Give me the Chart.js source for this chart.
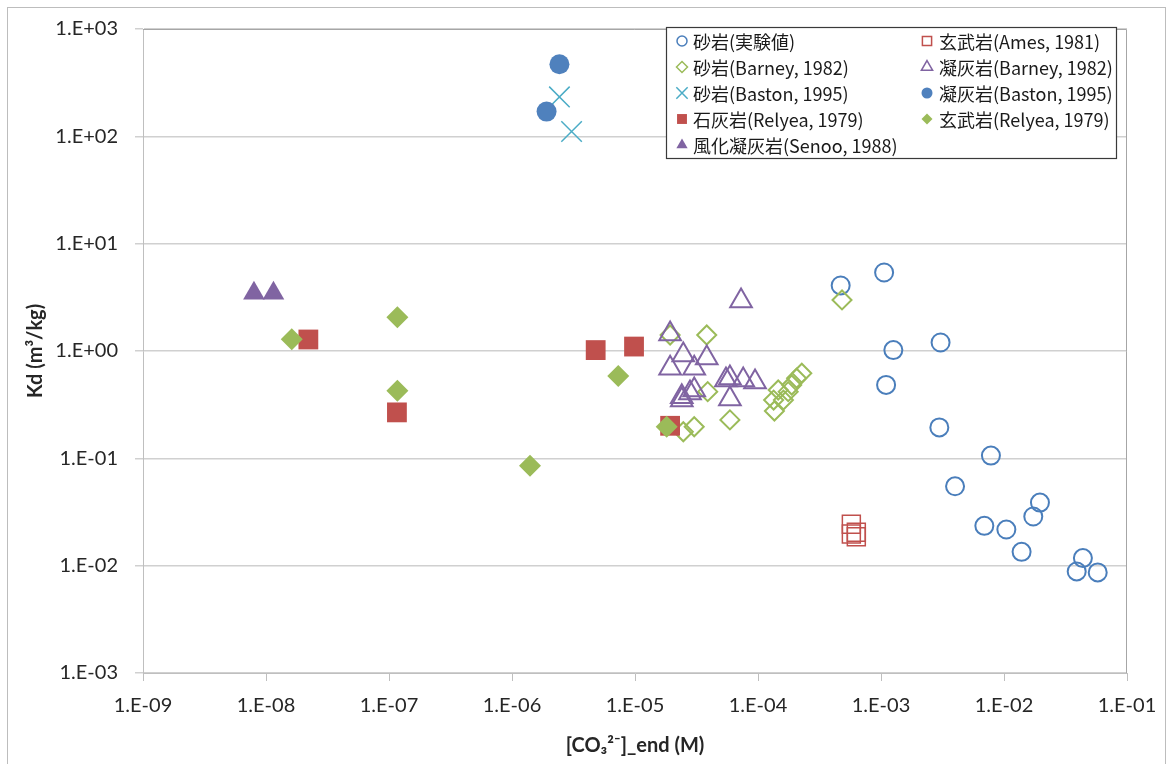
<!DOCTYPE html>
<html>
<head>
<meta charset="utf-8">
<script src="https://cdn.jsdelivr.net/npm/chart.js@4.4.1/dist/chart.umd.min.js"></script>
<style>
  html, body { margin: 0; padding: 0; background: #ffffff; }
  #wrap { width: 1170px; height: 764px; position: relative; }
</style>
</head>
<body>
<div id="wrap"><canvas id="c" width="1170" height="764"></canvas></div>
<script>
// ---- data ----
const xTickExponents = [-9, -8, -7, -6, -5, -4, -3, -2, -1];
const yTickExponents = [-3, -2, -1, 0, 1, 2, 3];

const seriesNames = [
  '砂岩(実験値)', '玄武岩(Ames, 1981)',
  '砂岩(Barney, 1982)', '凝灰岩(Barney, 1982)',
  '砂岩(Baston, 1995)', '凝灰岩(Baston, 1995)',
  '石灰岩(Relyea, 1979)', '玄武岩(Relyea, 1979)',
  '風化凝灰岩(Senoo, 1988)'
];

const sandstoneExpX = [4.70e-4, 1.06e-3, 1.26e-3, 3.05e-3, 1.10e-3, 2.98e-3, 7.83e-3, 4.0e-3, 1.96e-2, 1.73e-2, 6.92e-3, 1.045e-2, 1.39e-2, 4.38e-2, 3.9e-2, 5.78e-2];
const sandstoneExpY = [4.08, 5.39, 1.02, 1.20, 0.483, 0.194, 0.106, 0.0549, 0.0387, 0.0287, 0.0235, 0.0217, 0.01346, 0.01177, 0.00883, 0.00865];

const basaltAmesX = [5.74e-4, 6.30e-4, 6.30e-4, 5.74e-4];
const basaltAmesY = [0.0243, 0.0205, 0.0186, 0.0197];

const sandstoneBarneyX = [1.93e-5, 3.83e-5, 3.90e-5, 5.91e-5, 3.03e-5, 2.47e-5, 1.36e-4, 1.34e-4, 1.46e-4, 1.76e-4, 1.88e-4, 2.06e-4, 2.27e-4, 1.61e-4, 4.82e-4];
const sandstoneBarneyY = [1.41, 1.41, 0.418, 0.228, 0.197, 0.177, 0.276, 0.349, 0.433, 0.418, 0.482, 0.557, 0.620, 0.349, 2.99];

const tuffBarneyX = [7.28e-5, 1.93e-5, 2.47e-5, 3.83e-5, 1.93e-5, 3.03e-5, 5.91e-5, 7.58e-5, 9.46e-5, 5.49e-5, 3.03e-5, 2.40e-5, 2.40e-5, 5.91e-5, 2.80e-5];
const tuffBarneyY = [2.92, 1.44, 0.918, 0.861, 0.690, 0.690, 0.560, 0.537, 0.514, 0.537, 0.433, 0.375, 0.349, 0.357, 0.406];

const sandstoneBastonX = [2.43e-6, 3.05e-6];
const sandstoneBastonY = [233, 111];

const tuffBastonX = [2.43e-6, 1.91e-6];
const tuffBastonY = [469, 170];

const limestoneRelyeaX = [2.21e-8, 1.16e-7, 4.79e-6, 9.82e-6, 1.93e-5];
const limestoneRelyeaY = [1.28, 0.268, 1.02, 1.10, 0.201];

const basaltRelyeaX = [1.62e-8, 1.17e-7, 1.17e-7, 7.31e-6, 1.81e-5, 1.40e-6];
const basaltRelyeaY = [1.29, 2.06, 0.427, 0.585, 0.197, 0.0854];

const weatheredTuffSenooX = [7.98e-9, 1.15e-8];
const weatheredTuffSenooY = [3.45, 3.45];

// ---- build datasets ----
function pts(xs, ys) { return xs.map((x, i) => ({ x: x, y: ys[i] })); }
const NONE = 'rgba(0,0,0,0)';
const styles = [
  { style: 'circle',   r: 9,    bw: 2,   stroke: '#4A7EBB', fill: NONE,      lr: 5 },
  { style: 'rect',     r: 12.7, bw: 1.5, stroke: '#C0504D', fill: NONE,      lr: 6.5 },
  { style: 'rectRot',  r: 9.5,  bw: 2,   stroke: '#9BBB59', fill: NONE,      lr: 5.5 },
  { style: 'triangle', r: 12.5, bw: 2,   stroke: '#8064A2', fill: NONE,      lr: 6.5 },
  { style: 'crossRot', r: 14.5, bw: 1.5, stroke: '#4BACC6', fill: NONE,      lr: 8 },
  { style: 'circle',   r: 10,   bw: 0,   stroke: '#4F81BD', fill: '#4F81BD', lr: 5.5 },
  { style: 'rect',     r: 14,   bw: 0,   stroke: '#C0504D', fill: '#C0504D', lr: 7 },
  { style: 'rectRot',  r: 11,   bw: 0,   stroke: '#9BBB59', fill: '#9BBB59', lr: 5.5 },
  { style: 'triangle', r: 12.5, bw: 0,   stroke: '#8064A2', fill: '#8064A2', lr: 6.5 }
];
const seriesData = [
  pts(sandstoneExpX, sandstoneExpY),
  pts(basaltAmesX, basaltAmesY),
  pts(sandstoneBarneyX, sandstoneBarneyY),
  pts(tuffBarneyX, tuffBarneyY),
  pts(sandstoneBastonX, sandstoneBastonY),
  pts(tuffBastonX, tuffBastonY),
  pts(limestoneRelyeaX, limestoneRelyeaY),
  pts(basaltRelyeaX, basaltRelyeaY),
  pts(weatheredTuffSenooX, weatheredTuffSenooY)
];
const datasets = seriesData.map((d, i) => ({
  label: seriesNames[i],
  data: d,
  order: seriesData.length - i,
  pointStyle: styles[i].style,
  pointRadius: styles[i].r,
  pointHoverRadius: styles[i].r,
  pointBorderWidth: styles[i].bw,
  pointBorderColor: styles[i].stroke,
  pointBackgroundColor: styles[i].fill,
  showLine: false
}));

function fmtExp(v) {
  const e = Math.round(Math.log10(v));
  return '1.E' + (e < 0 ? '-' : '+') + String(Math.abs(e)).padStart(2, '0');
}

const TICK_FONT = { family: 'Lato, "Open Sans", sans-serif', size: 20 };
const TITLE_FONT = { family: 'Lato, "Open Sans", sans-serif', size: 20, weight: 'bold' };
const GRID = '#d0d0d0';

const framePlugin = {
  id: 'frame',
  afterDraw(chart) {
    const ctx = chart.ctx;
    const a = chart.chartArea;
    ctx.save();
    // outer chart border
    ctx.strokeStyle = '#bdbdbd';
    ctx.lineWidth = 1;
    ctx.strokeRect(7.5, 7.5, 1158, 800);
    // plot area border
    ctx.strokeStyle = '#a6a6a6';
    ctx.beginPath();
    ctx.moveTo(a.left, a.top + 0.5);
    ctx.lineTo(a.right - 0.5, a.top + 0.5);
    ctx.lineTo(a.right - 0.5, a.bottom);
    ctx.stroke();
    // legend box
    const L = 666, T = 27, R = 1116, B = 158;
    ctx.fillStyle = '#ffffff';
    ctx.fillRect(L, T, R - L, B - T);
    ctx.strokeStyle = '#3a3a3a';
    ctx.lineWidth = 1.2;
    ctx.strokeRect(L + 0.5, T + 0.5, R - L, B - T);
    const colMarker = [682, 927];
    const colText = [693, 939];
    const rowY = [41, 67, 93, 119, 145];
    ctx.font = '18px "Noto Sans CJK JP", sans-serif';
    ctx.textBaseline = 'middle';
    ctx.textAlign = 'left';
    seriesNames.forEach((name, i) => {
      const col = i % 2, row = Math.floor(i / 2);
      const s = styles[i];
      const x = colMarker[col], y = rowY[row];
      ctx.save();
      ctx.fillStyle = s.fill;
      ctx.strokeStyle = s.stroke;
      ctx.lineWidth = s.bw > 0 ? 1.5 : 0;
      Chart.helpers.drawPoint(ctx, { pointStyle: s.style, radius: s.lr, rotation: 0, borderWidth: s.bw > 0 ? 1.5 : 0 }, x, y);
      ctx.restore();
      ctx.fillStyle = '#1a1a1a';
      ctx.fillText(name, colText[col], y + 1);
    });
    ctx.restore();
  }
};

new Chart(document.getElementById('c'), {
  type: 'scatter',
  data: { datasets: datasets },
  options: {
    responsive: false,
    animation: false,
    events: [],
    layout: { padding: { left: 0, top: 29, right: 43, bottom: 0 } },
    plugins: { legend: { display: false }, tooltip: { enabled: false } },
    scales: {
      x: {
        type: 'logarithmic',
        position: 'bottom',
        min: 1e-9,
        max: 1e-1,
        afterBuildTicks: (s) => { s.ticks = xTickExponents.map(e => ({ value: Math.pow(10, e) })); },
        afterFit: (s) => { s.height = 91; },
        ticks: {
          autoSkip: false, maxRotation: 0, padding: 13,
          color: '#262626', font: TICK_FONT,
          callback: (v) => fmtExp(v)
        },
        grid: { drawOnChartArea: false, drawTicks: true, tickLength: 8, color: '#bfbfbf', lineWidth: 1 },
        border: { display: true, color: '#bfbfbf', width: 1 },
        title: {
          display: true, text: '[CO₃²⁻]_end (M)', color: '#262626',
          font: TITLE_FONT,
          padding: { top: 0, bottom: 6 }
        }
      },
      y: {
        type: 'logarithmic',
        position: 'left',
        min: 1e-3,
        max: 1e3,
        afterBuildTicks: (s) => { s.ticks = yTickExponents.map(e => ({ value: Math.pow(10, e) })); },
        afterFit: (s) => { s.width = 143; },
        ticks: {
          autoSkip: false, padding: 17,
          color: '#262626', font: TICK_FONT,
          callback: (v) => fmtExp(v)
        },
        grid: { drawOnChartArea: true, drawTicks: true, tickLength: 8, color: GRID, lineWidth: 1.5 },
        border: { display: true, color: '#bfbfbf', width: 1 },
        title: {
          display: true, text: 'Kd (m³/kg)', color: '#262626',
          font: TITLE_FONT,
          padding: { top: 24, bottom: 0 }
        }
      }
    }
  },
  plugins: [framePlugin]
});
</script>
</body>
</html>
